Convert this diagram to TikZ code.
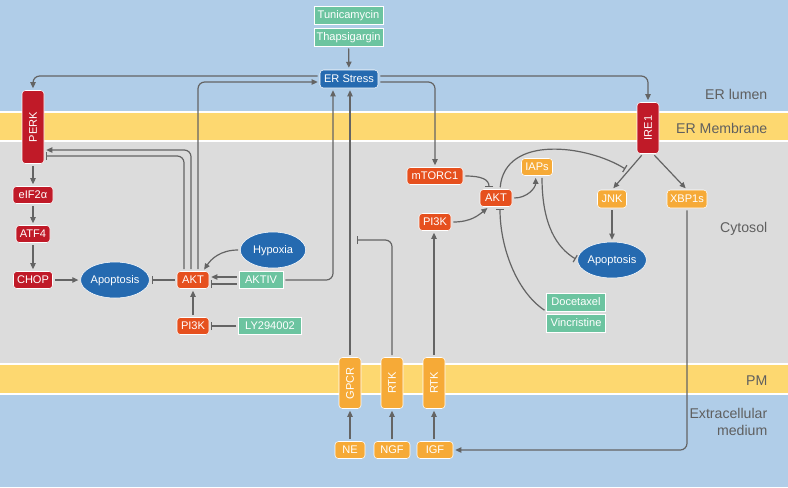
\documentclass[tikz,border=0pt]{standalone}
\usepackage{fontspec}
\setmainfont{Liberation Sans}
\usepackage{graphicx}
\usetikzlibrary{positioning,arrows.meta,shapes.geometric}

\definecolor{lumen}{RGB}{176,205,232}
\definecolor{membr}{RGB}{253,216,112}
\definecolor{cyto}{RGB}{220,220,220}
\definecolor{perkred}{RGB}{192,26,40}
\definecolor{aktred}{RGB}{230,80,30}
\definecolor{recorange}{RGB}{246,170,55}
\definecolor{drugteal}{RGB}{108,196,160}
\definecolor{cellblue}{RGB}{37,106,176}
\definecolor{wire}{RGB}{100,100,100}
\definecolor{lbl}{RGB}{95,95,95}

\begin{document}
\begin{tikzpicture}[x=0.75pt,y=-0.75pt,
        every node/.style={font=\fontsize{8.3}{10}\selectfont,text=white},
        box/.style={draw=white,line width=0.4pt,rounded corners=2.5pt,minimum height=12.75pt,inner xsep=2pt,inner ysep=0pt,text height=6pt,text depth=0.5pt},
        mem/.style={box,minimum width=16.5pt,minimum height=38.25pt,text height=,text depth=},
        drug/.style={draw=white,line width=0.5pt,fill=drugteal,minimum height=13.5pt,inner xsep=2pt,inner ysep=0pt,text height=6pt,text depth=0.5pt},
        cell/.style={ellipse,draw=white,line width=0.4pt,fill=cellblue,minimum width=49pt,minimum height=27pt,inner sep=0pt,text height=6pt,text depth=0.5pt},
        region/.style={font=\fontsize{10.6}{12.75}\selectfont,text=lbl,anchor=east,align=right},
        wires/.style={draw=wire,line width=0.9pt,rounded corners=5pt,shorten >=1.5pt,shorten <=1.5pt},
        act/.style={wires,-{Triangle[length=4.5pt,width=4pt]}},
        inh/.style={wires,-{Bar[width=6pt]}}]
    \useasboundingbox (0,0) rectangle (788,487);

    % compartments
    \fill[lumen] (0,0) rectangle (788,487);
    \fill[white] (0,110.5) rectangle (788,141.5);
    \fill[membr] (0,112.5) rectangle (788,139.5);
    \fill[cyto] (0,141.5) rectangle (788,363);
    \fill[white] (0,363) rectangle (788,395);
    \fill[membr] (0,365) rectangle (788,393);

    \foreach \y/\t/\n in {94/ER lumen/lum, 128/ER Membrane/erm, 229/Cytosol/cyt, 381/PM/pm} {
        \node[region] (lbl-\n) at (772,\y) {\t};
    }
    \node[region] (lbl-ext) at (772,422) {Extracellular\\medium};

    % ER side
    \node[drug,minimum width=51.75pt] (tuni) at (348.5,15) {Tunicamycin};
    \node[drug,minimum width=51.75pt] (thapsi) at (348.5,37) {Thapsigargin};
    \node[box,fill=cellblue,minimum width=43.5pt,minimum height=13.5pt] (stress) at (349,79) {ER Stress};
    \node[mem,fill=perkred,minimum height=54.75pt] (perk) at (33,127) {\rotatebox{90}{PERK}};
    \node[mem,fill=perkred] (ire) at (648,128) {\rotatebox{90}{IRE1}};

    % PERK branch
    \node[box,fill=perkred,minimum width=30pt] (eif) at (33,195) {eIF2α};
    \node[box,fill=perkred,minimum width=25.5pt] (atf) at (33,234) {ATF4};
    \node[box,fill=perkred,minimum width=29.25pt] (chop) at (33,280) {CHOP};
    \node[cell] (apoL) at (115,280) {Apoptosis};
    \node[box,fill=aktred,minimum width=24pt] (aktL) at (193,280) {AKT};
    \node[cell] (hypoxia) at (273,250) {Hypoxia};
    \node[drug,minimum width=33pt,minimum height=12.75pt] (aktiv) at (261,280) {AKTIV};
    \node[box,fill=aktred,minimum width=24pt] (pi3kL) at (193,326) {PI3K};
    \node[drug,minimum width=47.25pt,minimum height=12.75pt] (ly) at (270,326) {LY294002};

    % receptors and ligands
    \node[mem,fill=recorange] (gpcr) at (350,383) {\rotatebox{90}{GPCR}};
    \node[mem,fill=recorange] (rtkA) at (392,383) {\rotatebox{90}{RTK}};
    \node[mem,fill=recorange] (rtkB) at (434,383) {\rotatebox{90}{RTK}};
    \node[box,fill=recorange,minimum width=22.5pt] (ne) at (350,450) {NE};
    \node[box,fill=recorange,minimum width=27pt] (ngf) at (392,450) {NGF};
    \node[box,fill=recorange,minimum width=27pt] (igf) at (435,450) {IGF};

    % mTORC1 / IRE1 branch
    \node[box,fill=aktred,minimum width=42pt] (mtorc) at (435,176) {mTORC1};
    \node[box,fill=aktred,minimum width=24pt] (aktR) at (496,198) {AKT};
    \node[box,fill=aktred,minimum width=24pt] (pi3kR) at (435,222) {PI3K};
    \node[box,fill=recorange,minimum width=23.25pt] (iaps) at (537,167) {IAPs};
    \node[box,fill=recorange,minimum width=21.75pt,minimum height=13.5pt] (jnk) at (612,199) {JNK};
    \node[box,fill=recorange,minimum width=30pt,minimum height=13.5pt] (xbp) at (687,199) {XBP1s};
    \node[cell] (apoR) at (612,260) {Apoptosis};
    \node[drug,minimum width=44.25pt] (doce) at (576,302) {Docetaxel};
    \node[drug,minimum width=44.25pt] (vinc) at (576,323) {Vincristine};

    \coordinate (gpcrhit) at (355,240);
    \coordinate (jnkhit) at (627,170);

    % connectors
    \draw[act] (thapsi) -- (stress);
    \draw[act] ([yshift=2.25pt]stress.west) -| (perk.north);
    \draw[act] ([xshift=3.75pt]aktL.north) |- ([yshift=-2.25pt]stress.west);
    \draw[act] ([xshift=-1.5pt]aktL.north) |- ([yshift=-17.25pt]perk.east);
    \draw[inh] ([xshift=-6.75pt]aktL.north) |- ([yshift=-21.75pt]perk.east);
    \draw[act] (perk) -- (eif);
    \draw[act] (eif) -- (atf);
    \draw[act] (atf) -- (chop);
    \draw[act] (chop) -- (apoL);
    \draw[inh] (aktL) -- (apoL);
    \draw[act] (hypoxia.west) .. controls +(-20,0) and +(8,-12) .. ([xshift=7.5pt]aktL.north);
    \draw[act] ([yshift=2.25pt]aktiv.west) -- ([yshift=2.25pt]aktL.east);
    \draw[inh] ([yshift=-3pt]aktiv.west) -- ([yshift=-3pt]aktL.east);
    \draw[act] (aktiv.east) -| ([xshift=-12pt]stress.south);
    \draw[act] (pi3kL) -- (aktL);
    \draw[inh] (ly) -- (pi3kL);

    \draw[act] (gpcr.north) -- (gpcr.north |- stress.south);
    \draw[inh] (rtkA.north) |- (gpcrhit);
    \draw[act] (rtkB.north) -- (rtkB.north |- pi3kR.south);
    \draw[act] (ne) -- (gpcr);
    \draw[act] (ngf) -- (rtkA);
    \draw[act] (rtkB.south |- igf.north) -- (rtkB.south);

    \draw[act] ([yshift=2.25pt]stress.east) -| (ire.north);
    \draw[act] ([yshift=-2.25pt]stress.east) -| (mtorc.north);
    \draw[inh] (mtorc.east) .. controls +(18,0) and +(0,-10) .. ([xshift=-5.25pt]aktR.north);
    \draw[act] (pi3kR.east) .. controls +(20,0) and +(-10,8) .. ([xshift=-5.25pt]aktR.south);
    \draw[act] (aktR.east) .. controls +(15,0) and +(0,12) .. ([xshift=-1pt]iaps.south);
    \draw[inh] ([xshift=3pt]aktR.north) .. controls +(5,-55) and +(-40,-25) .. (jnkhit);
    \draw[inh] ([xshift=3.75pt]iaps.south) .. controls +(0,50) and +(-20,-12) .. (apoR.west);
    \draw[inh] (doce.south west) .. controls +(-30,-20) and +(0,40) .. ([xshift=3pt]aktR.south);
    \draw[act] ([xshift=-3.75pt]ire.south) -- (jnk.north);
    \draw[act] ([xshift=3.75pt]ire.south) -- (xbp.north);
    \draw[act] (jnk) -- (apoR);
    \draw[act] (xbp.south) |- (igf.east);
\end{tikzpicture}
\end{document}
